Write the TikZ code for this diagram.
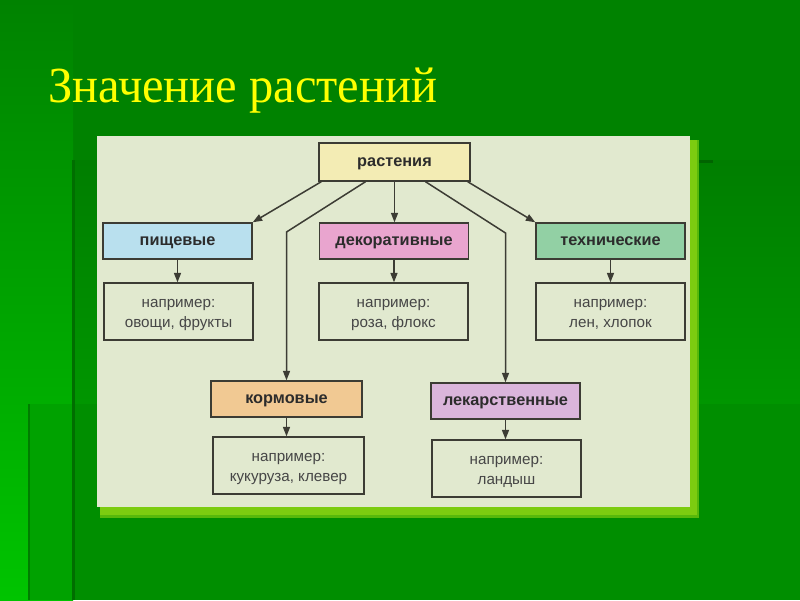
\documentclass[tikz,border=0pt]{standalone}
\usepackage{fontspec}
\setmainfont{Liberation Serif}
\setsansfont{Liberation Sans}
\usetikzlibrary{arrows.meta,calc}
\definecolor{bgmain}{HTML}{008A00}
\definecolor{bgtop}{HTML}{008200}
\definecolor{bgleftbot}{HTML}{00C400}
\definecolor{bgmidtop}{HTML}{007E00}
\definecolor{bgmidbot}{HTML}{009600}
\definecolor{bgstrip}{HTML}{00A200}
\definecolor{bglow}{HTML}{008E00}
\definecolor{edgeA}{HTML}{006E00}
\definecolor{edgeB}{HTML}{007D00}
\definecolor{edgeC}{HTML}{006400}
\definecolor{titleyellow}{HTML}{FFFF00}
\definecolor{panel}{HTML}{E1E9CF}
\definecolor{shadowgreen}{HTML}{7CCC10}
\definecolor{boxline}{HTML}{3C3C34}
\definecolor{txtcat}{HTML}{2C2C2C}
\definecolor{txtex}{HTML}{464646}
\definecolor{cr}{HTML}{F3ECB4}
\definecolor{cp}{HTML}{B9E0EE}
\definecolor{cd}{HTML}{E9A5CF}
\definecolor{ct}{HTML}{92D0A4}
\definecolor{ck}{HTML}{F1C993}
\definecolor{cl}{HTML}{DAB5DB}
\newcommand{\extext}[2]{\renewcommand{\arraystretch}{1}\begin{tabular}{@{}c@{}}\rule{0pt}{18pt}#1\\#2\end{tabular}}
\tikzset{
  catbox/.style={draw=boxline, line width=1.4pt, inner sep=0pt, minimum width=149pt, minimum height=36pt,
    text height=8.5pt, text depth=0pt,
    font=\sffamily\bfseries\fontsize{16.3}{16.3}\selectfont, text=txtcat},
  exbox/.style={draw=boxline, line width=1.3pt, inner sep=0pt, minimum width=149pt, minimum height=57pt,
    font=\sffamily\fontsize{15.2}{19.5}\selectfont, text=txtex},
  conn/.style={draw=boxline, line width=1.5pt, -{Triangle[length=9.5pt,width=7pt]}}
}
\begin{document}
\begin{tikzpicture}[x=1pt,y=-1pt]
\useasboundingbox (0,0) rectangle (800,600);
% background
\fill[bgmain] (0,0) rectangle (800,600);
\fill[bgtop] (0,0) rectangle (800,160);
\shade[top color=bgtop, bottom color=bgleftbot] (0,0) rectangle (73,600);
\shade[top color=bgmidtop, bottom color=bgmidbot] (73,160) rectangle (800,404);
\fill[bgstrip] (28,404) rectangle (73,600);
\fill[bglow] (73,404) rectangle (800,600);
\fill[edgeA] (72,160) rectangle (75,600);
\fill[edgeB] (28,404) rectangle (30,600);
\fill[edgeC] (690,160) rectangle (713,163);
% title
\node[anchor=base west, inner sep=0pt, text=titleyellow, xscale=0.96,
  font=\fontsize{50.5}{50.5}\selectfont] (title) at (48,102) {Значение растений};
% panel with shadow
\fill[shadowgreen!70!bgmain] (100,140) rectangle (699,518);
\fill[shadowgreen] (100,140) rectangle (697,515);
\fill[panel] (97,136) rectangle (690,507);
% nodes
\node[catbox, fill=cr, minimum width=151pt, minimum height=38pt] (r) at (394.5,162) {растения};
\node[catbox, fill=cp] (p) at (177.5,241) {пищевые};
\node[catbox, fill=cd] (d) at (394,241) {декоративные};
\node[catbox, fill=ct] (t) at (610.5,241) {технические};
\node[catbox, fill=ck, minimum width=151pt] (k) at (286.5,399) {кормовые};
\node[catbox, fill=cl] (l) at (505.5,401) {лекарственные};
\node[exbox] (e1) at (178.5,311.5) {\extext{например:}{овощи, фрукты}};
\node[exbox] (e2) at (393.5,311.5) {\extext{например:}{роза, флокс}};
\node[exbox] (e3) at (610.5,311.5) {\extext{например:}{лен, хлопок}};
\node[exbox, minimum width=151pt] (e4) at (288.5,465.5) {\extext{например:}{кукуруза, клевер}};
\node[exbox] (e5) at (506.5,468.5) {\extext{например:}{ландыш}};
% connectors
\coordinate (kb) at (286.5,232);
\coordinate (lb) at (505.5,233);
\draw[conn] ($(r.south west)+(3,0)$) -- (p.north east);
\draw[conn] (r.south) -- (r.south |- d.north);
\draw[conn] ($(r.south east)+(-3,0)$) -- (t.north west);
\draw[conn] ($(r.south)+(-29,0)$) -- (kb) -- (k.north);
\draw[conn] ($(r.south)+(31,0)$) -- (lb) -- (l.north);
\draw[conn] (p.south) -- (p.south |- e1.north);
\draw[conn] (d.south) -- (d.south |- e2.north);
\draw[conn] (t.south) -- (t.south |- e3.north);
\draw[conn] (k.south) -- (k.south |- e4.north);
\draw[conn] (l.south) -- (l.south |- e5.north);
\end{tikzpicture}
\end{document}
